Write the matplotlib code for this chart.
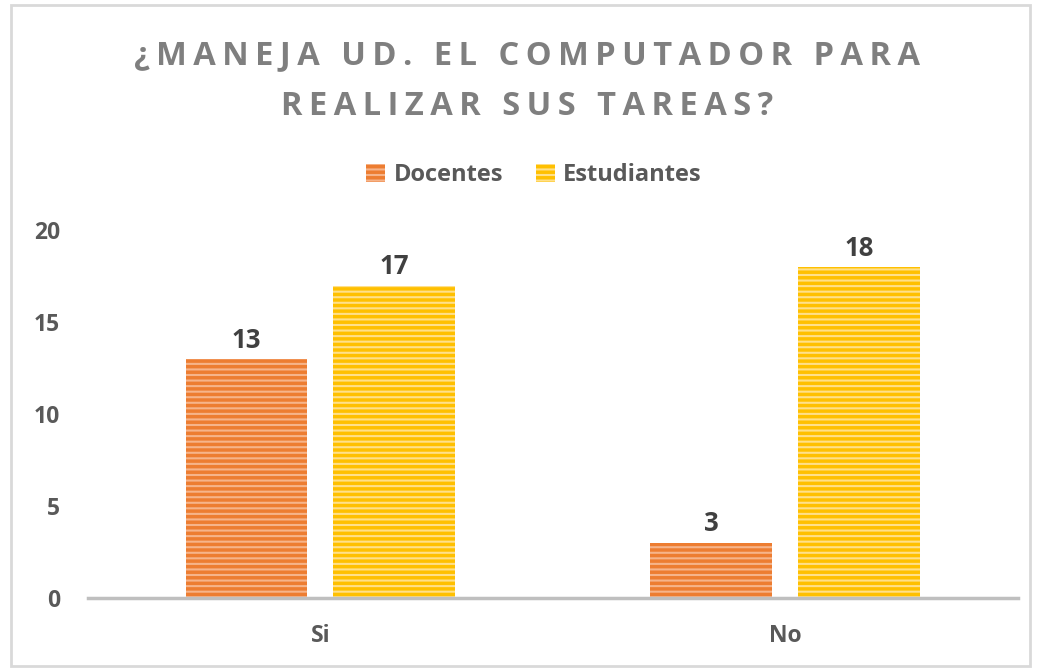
import matplotlib
matplotlib.use("Agg")
import matplotlib.pyplot as plt
import numpy as np
from matplotlib.patches import Rectangle

categories = ["Si", "No"]
docentes = [13, 3]
estudiantes = [17, 18]
series_names = ["Docentes", "Estudiantes"]
yticks = [0, 5, 10, 15, 20]
title_lines = ["¿MANEJA UD. EL COMPUTADOR PARA", "REALIZAR SUS TAREAS?"]

plt.rcParams["font.family"] = ["Open Sans", "DejaVu Sans"]
plt.rcParams["hatch.linewidth"] = 1.5

fig = plt.figure(figsize=(10.41, 6.68), dpi=100)
ax = fig.add_axes([0.0845, 0.105, 0.893, 0.55])

x = np.arange(len(categories))
w = 0.262
off = 0.159
orange, orange_l = "#ED7D31", "#F6B48A"
yellow, yellow_l = "#FFC000", "#FFE08A"

b1 = ax.bar(x - off, docentes, w, color=orange, edgecolor=orange_l,
            linewidth=0, hatch="---", label=series_names[0])
b2 = ax.bar(x + off, estudiantes, w, color=yellow, edgecolor=yellow_l,
            linewidth=0, hatch="---", label=series_names[1])

for bars, vals in ((b1, docentes), (b2, estudiantes)):
    for r, v in zip(bars, vals):
        ax.text(r.get_x() + r.get_width() / 2, v + 0.3, str(v),
                ha="center", va="bottom", fontsize=18.5, fontweight="bold",
                color="#404040")

ax.set_xlim(-0.5, 1.5)
ax.set_ylim(0, 20)
ax.set_yticks(yticks)
ax.set_xticks(x)
ax.set_xticklabels(categories)
ax.tick_params(length=0, labelsize=16.5, labelcolor="#595959")
ax.tick_params(axis="x", pad=19)
ax.tick_params(axis="y", pad=20)
for lbl in ax.get_xticklabels() + ax.get_yticklabels():
    lbl.set_fontweight("bold")
for s in ["top", "right", "left"]:
    ax.spines[s].set_visible(False)
ax.spines["bottom"].set_color("#BFBFBF")
ax.spines["bottom"].set_linewidth(2.5)

# letter-spaced title (hair spaces between characters)
for line, yy in zip(title_lines, (0.917, 0.840)):
    spaced = "\u200a\u200a".join(line)
    fig.text(0.506, yy, spaced, ha="center", va="center",
             fontsize=23.5, fontweight="bold", color="#7F7F7F")

leg = fig.legend(loc="center", bbox_to_anchor=(0.513, 0.738), ncol=2, frameon=False,
                 fontsize=17, handlelength=0.8, handleheight=0.8,
                 columnspacing=1.4, handletextpad=0.35)
for t in leg.get_texts():
    t.set_color("#595959")
    t.set_fontweight("bold")

fig.patches.append(Rectangle((0.011, 0.003), 0.978, 0.99, transform=fig.transFigure,
                             fill=False, edgecolor="#D9D9D9", linewidth=2))

fig.savefig("out.png", dpi=100)
